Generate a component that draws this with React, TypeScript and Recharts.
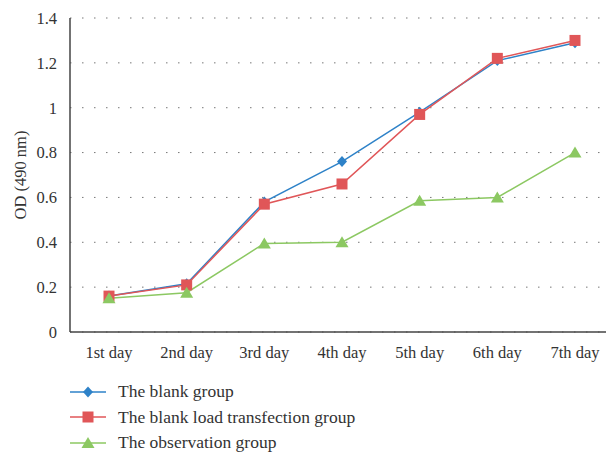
import { CartesianGrid, Label, Line, LineChart, XAxis, YAxis } from 'recharts'

const days = ['1st day', '2nd day', '3rd day', '4th day', '5th day', '6th day', '7th day']
const blankGroup = [0.16, 0.215, 0.58, 0.76, 0.98, 1.21, 1.29]
const blankLoadGroup = [0.16, 0.21, 0.57, 0.66, 0.97, 1.22, 1.3]
const observationGroup = [0.15, 0.175, 0.395, 0.4, 0.585, 0.6, 0.8]
const yTicks = [0, 0.2, 0.4, 0.6, 0.8, 1, 1.2, 1.4]

const BLUE = '#2e82c8'
const RED = '#e05658'
const GREEN = '#8cc862'
const FONT = 'Liberation Serif'

const series = [
  { key: 'blank', name: 'The blank group', color: BLUE, shape: 'diamond' },
  { key: 'load', name: 'The blank load transfection group', color: RED, shape: 'square' },
  { key: 'obs', name: 'The observation group', color: GREEN, shape: 'triangle' },
]

const data = days.map((day, i) => ({
  day,
  blank: blankGroup[i],
  load: blankLoadGroup[i],
  obs: observationGroup[i],
}))

const Marker = ({ cx, cy, shape, color }: { cx: number; cy: number; shape: string; color: string }) => {
  if (shape === 'diamond') {
    return <path d={`M${cx},${cy - 5.5}L${cx + 5},${cy}L${cx},${cy + 5.5}L${cx - 5},${cy}Z`} fill={color} />
  }
  if (shape === 'square') {
    return <rect x={cx - 5.5} y={cy - 5.5} width={11} height={11} fill={color} />
  }
  return <path d={`M${cx},${cy - 6}L${cx + 6.5},${cy + 5}L${cx - 6.5},${cy + 5}Z`} fill={color} />
}

// legend sits under the chart as plain html
const ChartLegend = () => (
  <div style={{ position: 'absolute', left: 62, top: 371, fontFamily: FONT, fontSize: 17.5, color: '#333' }}>
    {series.map((s) => (
      <div key={s.key} style={{ display: 'flex', alignItems: 'center', height: 25.5 }}>
        <svg width={36} height={14} style={{ marginRight: 12 }}>
          <line x1={0} y1={7} x2={36} y2={7} stroke={s.color} strokeWidth={1.5} />
          <Marker cx={18} cy={7} shape={s.shape} color={s.color} />
        </svg>
        <span>{s.name}</span>
      </div>
    ))}
  </div>
)

export default function App() {
  return (
    <div style={{ position: 'relative', width: 606, height: 445, fontFamily: FONT }}>
      <LineChart width={606} height={354} data={data} margin={{ top: 10, right: 0, bottom: 0, left: 0 }}>
        <CartesianGrid vertical={false} stroke="#777" strokeDasharray="1.5 10.5" />
        <XAxis
          dataKey="day"
          stroke="#444"
          strokeWidth={1.5}
          tickLine={false}
          tickSize={0}
          tickMargin={14}
          height={30}
          padding={{ left: 39, right: 39 }}
          tick={{ fill: '#333', fontSize: 16.5, fontFamily: FONT }}
        />
        <YAxis
          domain={[0, 1.4]}
          ticks={yTicks}
          stroke="#444"
          strokeWidth={1.5}
          tickLine={false}
          tickSize={0}
          tickMargin={13}
          width={62}
          tick={{ fill: '#333', fontSize: 16.5, fontFamily: FONT }}
        >
          <Label
            value="OD (490 nm)"
            angle={-90}
            position="insideLeft"
            offset={12}
            style={{ textAnchor: 'middle', fill: '#333', fontSize: 16.5, fontFamily: FONT }}
          />
        </YAxis>
        {series.map((s) => (
          <Line
            key={s.key}
            dataKey={s.key}
            name={s.name}
            stroke={s.color}
            strokeWidth={1.5}
            isAnimationActive={false}
            dot={(p: any) => <Marker key={`${s.key}-${p.index}`} cx={p.cx} cy={p.cy} shape={s.shape} color={s.color} />}
            activeDot={false}
          />
        ))}
      </LineChart>
      <ChartLegend />
    </div>
  )
}
